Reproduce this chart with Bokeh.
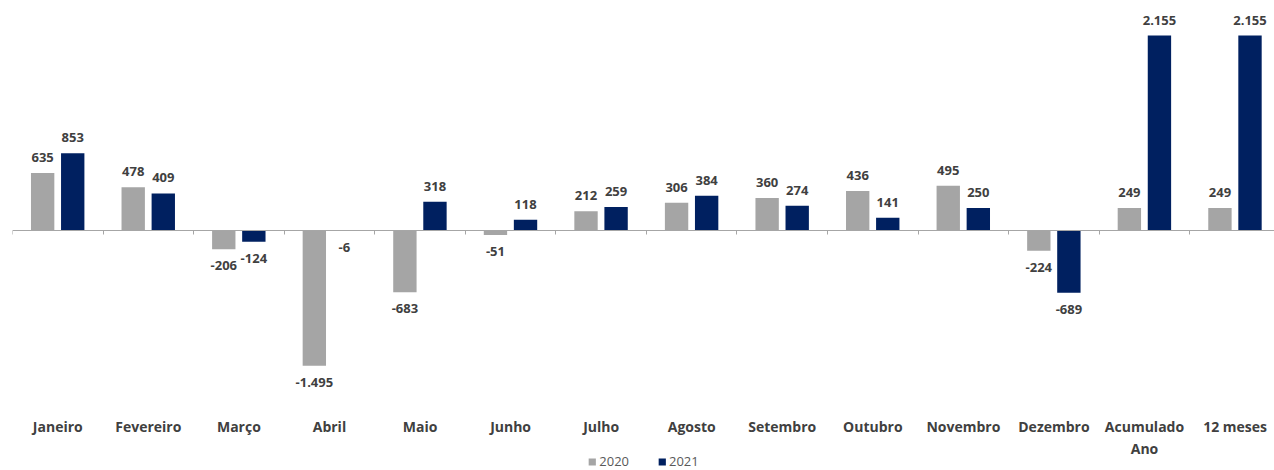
from bokeh.plotting import figure
from bokeh.models import Range1d, LinearAxis, FixedTicker, Legend, LegendItem, ColumnDataSource
from bokeh.core.properties import value
from bokeh.embed import file_html
from bokeh.resources import INLINE

categories = ["Janeiro", "Fevereiro", "Março", "Abril", "Maio", "Junho", "Julho",
              "Agosto", "Setembro", "Outubro", "Novembro", "Dezembro",
              "Acumulado\nAno", "12 meses"]
v2020 = [635, 478, -206, -1495, -683, -51, 212, 306, 360, 436, 495, -224, 249, 249]
v2021 = [853, 409, -124, -6, 318, 118, 259, 384, 274, 141, 250, -689, 2155, 2155]
series = ["2020", "2021"]
colors = ["#A5A5A5", "#002060"]

FONT = "Open Sans"
W, H = 1274, 470
LEFT = 12
CAT_PX = 90.56
ZERO_PX = 230
U = 2155 / 195.0  # data units per pixel

def fmt(v):
    return f"{v:,}".replace(",", ".")

n = len(categories)
xs = list(range(n))

p = figure(width=W, height=H,
           x_range=Range1d(-0.5, -0.5 + (W - LEFT) / CAT_PX),
           y_range=Range1d(-(H - ZERO_PX) * U, ZERO_PX * U),
           output_backend="svg", toolbar_location=None,
           x_axis_location=None, y_axis_location=None,
           min_border_left=LEFT, min_border_right=0, min_border_top=0, min_border_bottom=0,
           outline_line_color=None)
p.grid.visible = False

offsets = [-0.167, 0.165]
bw = 0.258
renderers = []
for k, vals in enumerate([v2020, v2021]):
    xk = [x + offsets[k] for x in xs]
    src = ColumnDataSource(dict(x=xk, top=vals))
    r = p.vbar(x="x", top="top", bottom=0, width=bw, source=src,
               fill_color=colors[k], line_color=None)
    renderers.append(r)
    pos = [(x, v, fmt(v)) for x, v in zip(xk, vals) if v >= 0]
    neg = [(x, v, fmt(v)) for x, v in zip(xk, vals) if v < 0]
    for rows, base, off in [(pos, "bottom", -11), (neg, "top", 12)]:
        if not rows:
            continue
        s = ColumnDataSource(dict(x=[r_[0] for r_ in rows], y=[r_[1] for r_ in rows],
                                  t=[r_[2] for r_ in rows]))
        p.text(x="x", y="y", text="t", source=s, text_align="center",
               text_baseline=base, y_offset=off,
               text_font=value(FONT), text_font_style="bold",
               text_font_size="13px", text_color="#404040")

# zero axis with category boundary ticks
ax0 = LinearAxis(fixed_location=0,
                 ticker=FixedTicker(ticks=[], minor_ticks=[i - 0.5 for i in range(n + 1)]),
                 axis_line_color="#A6A6A6", axis_line_width=1,
                 minor_tick_line_color="#A6A6A6", minor_tick_out=4, minor_tick_in=0,
                 major_tick_line_color=None, major_label_text_font_size="0px")
p.add_layout(ax0, "below")

# category labels
ax1 = LinearAxis(fixed_location=-175 * U,
                 ticker=FixedTicker(ticks=xs),
                 major_label_overrides={i: c for i, c in enumerate(categories)},
                 axis_line_color=None, major_tick_line_color=None, minor_tick_line_color=None,
                 major_label_text_font=FONT, major_label_text_font_style="bold",
                 major_label_text_font_size="14px", major_label_text_color="#404040",
                 major_label_standoff=5)
p.add_layout(ax1, "below")

legend = Legend(items=[LegendItem(label=series[k], renderers=[renderers[k]]) for k in range(2)],
                location="bottom_center", orientation="horizontal",
                background_fill_alpha=0, border_line_color=None,
                glyph_width=9, glyph_height=9, label_height=9, label_standoff=3,
                spacing=28, margin=0, padding=0,
                label_text_font=FONT, label_text_font_size="13px", label_text_color="#595959")
p.add_layout(legend, "center")

open("out.html", "w").write(file_html(p, INLINE))
